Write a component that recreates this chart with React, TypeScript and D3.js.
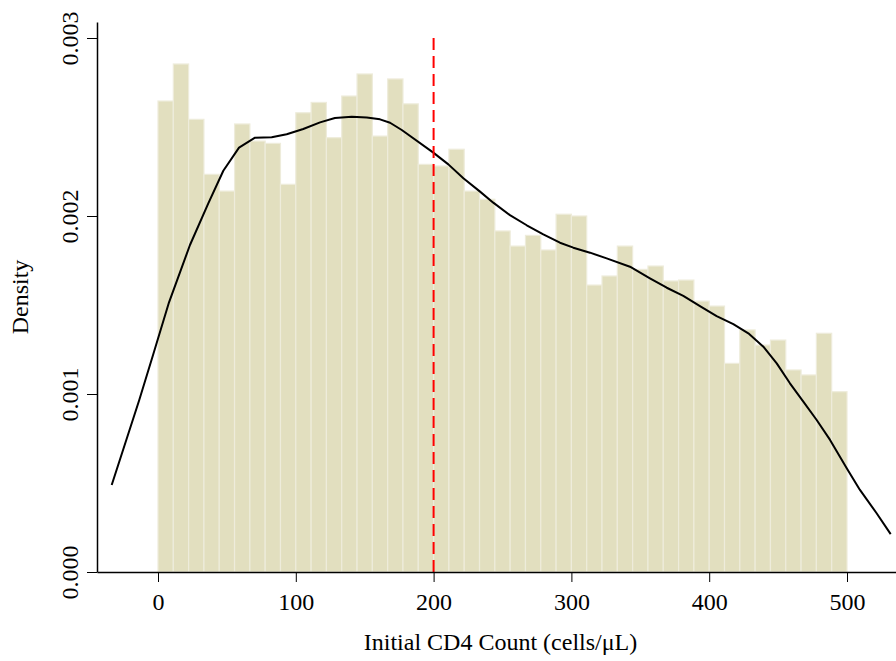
import React, { useEffect, useRef } from "react";
import * as d3 from "d3";

// histogram: 45 equal bins over 0..500 cells/uL, values are densities
const binCount = 45;
const binRange = [0, 500];
const densities = [
  0.002646, 0.002854, 0.002543, 0.002234, 0.00214, 0.002517, 0.002421, 0.002408, 0.002178,
  0.00258, 0.002638, 0.00244, 0.002674, 0.002798, 0.002449, 0.00277, 0.00263, 0.00229,
  0.002281, 0.002375, 0.00214, 0.002094, 0.001916, 0.001831, 0.001891, 0.001809, 0.00201,
  0.002, 0.001612, 0.001663, 0.001831, 0.0017, 0.001719, 0.001635, 0.00164, 0.001522,
  0.001494, 0.001172, 0.00136, 0.001275, 0.001303, 0.001135, 0.001107, 0.001341, 0.001013,
];

// kernel density curve
const kdeX = [
  -33.6, -13.6, -3.6, 8.0, 23.2, 36.5, 47.4, 58.8, 70.4, 82.5, 93.4, 105.4, 117.6, 128.4,
  140.6, 151.5, 161.1, 168.4, 176.9, 199.8, 210.7, 221.6, 233.7, 243.3, 255.4, 267.6, 279.6,
  291.7, 301.4, 313.5, 325.6, 342.5, 357, 369.2, 381.2, 393.3, 405.4, 417.5, 428.4, 439.3,
  449, 458.6, 468.3, 478, 487.7, 499.8, 509.4, 521.5, 531.7,
];
const kdeY = [
  0.000489, 0.000966, 0.001219, 0.001515, 0.001837, 0.002071, 0.002254, 0.002384, 0.00244,
  0.002442, 0.002459, 0.002489, 0.002526, 0.002551, 0.002558, 0.002554, 0.002543, 0.002524,
  0.002483, 0.002356, 0.00229, 0.002212, 0.002137, 0.002075, 0.002005, 0.001948, 0.001897,
  0.00185, 0.001822, 0.001794, 0.001762, 0.001715, 0.00165, 0.001597, 0.001551, 0.001494,
  0.001438, 0.001392, 0.001341, 0.001266, 0.001172, 0.00106, 0.000957, 0.000854, 0.000742,
  0.000583, 0.000461, 0.00033, 0.000213,
];

const xTicks = [0, 100, 200, 300, 400, 500];
const yTicks = [0, 0.001, 0.002, 0.003];
const cutoff = 200;

const width = 896;
const height = 661;
const font = "'Liberation Serif', 'Times New Roman', serif";
const fontSize = "24px";

export default function App() {
  const ref = useRef<SVGSVGElement>(null);

  useEffect(() => {
    const svg = d3.select(ref.current);
    svg.selectAll("*").remove();

    // 0 sits at 158px, 500 at 847px; axis line runs 97 -> 896
    const pxPerUnit = (847 - 158) / 500;
    const x = d3
      .scaleLinear()
      .domain([(97 - 158) / pxPerUnit, (896 - 158) / pxPerUnit])
      .range([97, 896]);
    const pxPerDens = (572 - 38) / 0.003;
    const y = d3
      .scaleLinear()
      .domain([0, (572 - 22) / pxPerDens])
      .range([572, 22]);

    const binW = (binRange[1] - binRange[0]) / binCount;
    const bins = densities.map((d, i) => ({
      x0: binRange[0] + i * binW,
      x1: binRange[0] + (i + 1) * binW,
      d,
    }));

    // bars
    svg
      .append("g")
      .selectAll("rect")
      .data(bins)
      .enter()
      .append("rect")
      .attr("x", (b) => x(b.x0))
      .attr("y", (b) => y(b.d))
      .attr("width", (b) => x(b.x1) - x(b.x0))
      .attr("height", (b) => y(0) - y(b.d))
      .attr("fill", "#e2dfbf")
      .attr("stroke", "#eeecdb")
      .attr("stroke-width", 1.2);

    // density curve (plain polyline, like R's lines())
    const pts = kdeX.map((v, i) => [v, kdeY[i]] as [number, number]);
    const line = d3
      .line<[number, number]>()
      .x((p) => x(p[0]))
      .y((p) => y(p[1]));
    svg
      .append("path")
      .datum(pts)
      .attr("d", line)
      .attr("fill", "none")
      .attr("stroke", "#000")
      .attr("stroke-width", 2)
      .attr("stroke-linejoin", "round");

    // cutoff line
    svg
      .append("line")
      .attr("x1", x(cutoff))
      .attr("x2", x(cutoff))
      .attr("y1", y(0.003))
      .attr("y2", y(0))
      .attr("stroke", "#ff0000")
      .attr("stroke-width", 2)
      .attr("stroke-dasharray", "12,6");

    // x axis
    const xAxis = svg
      .append("g")
      .attr("transform", `translate(0, ${y(0)})`)
      .call(d3.axisBottom(x).tickValues(xTicks).tickSize(10).tickSizeOuter(0).tickFormat(d3.format("d")));
    xAxis.select(".domain").attr("stroke-width", 1.5);
    xAxis
      .selectAll("text")
      .attr("y", 38)
      .attr("dy", null)
      .attr("fill", "#000")
      .style("font-family", font)
      .style("font-size", fontSize);

    // y axis
    const yAxis = svg
      .append("g")
      .attr("transform", `translate(97, 0)`)
      .call(d3.axisLeft(y).tickValues(yTicks).tickSize(10).tickSizeOuter(0).tickFormat(d3.format(".3f")));
    yAxis.select(".domain").attr("stroke-width", 1.5);
    yAxis
      .selectAll("text")
      .attr("x", null)
      .attr("dy", null)
      .attr("text-anchor", "middle")
      .attr("transform", "translate(-19, 0) rotate(-90)")
      .attr("fill", "#000")
      .style("font-family", font)
      .style("font-size", fontSize);

    // axis titles
    svg
      .append("text")
      .attr("x", (97 + 896) / 2 + 4)
      .attr("y", 650)
      .attr("text-anchor", "middle")
      .style("font-family", font)
      .style("font-size", fontSize)
      .text("Initial CD4 Count (cells/\u03bcL)");

    svg
      .append("text")
      .attr("transform", `translate(28, ${(572 + 22) / 2}) rotate(-90)`)
      .attr("text-anchor", "middle")
      .style("font-family", font)
      .style("font-size", fontSize)
      .text("Density");
  }, []);

  return (
    <svg
      ref={ref}
      width={width}
      height={height}
      style={{ position: "absolute", left: 0, top: 0, background: "#fff" }}
    />
  );
}
